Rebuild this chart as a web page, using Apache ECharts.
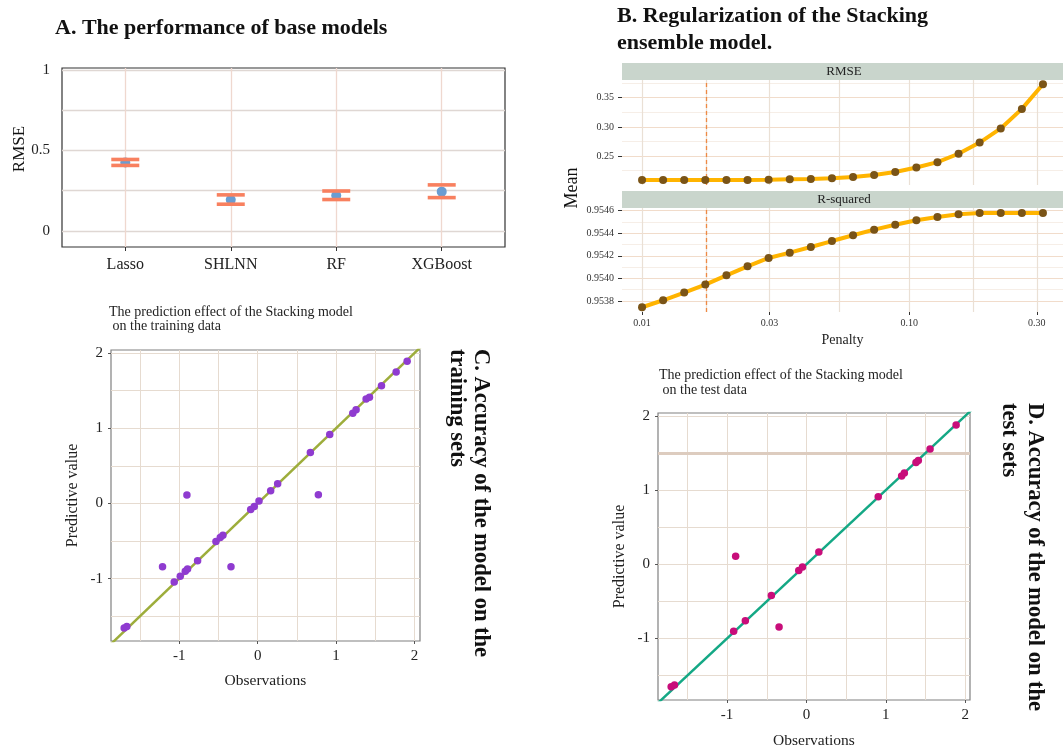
<!DOCTYPE html>
<html><head><meta charset="utf-8">
<script src="https://cdn.jsdelivr.net/npm/echarts@6/dist/echarts.min.js"></script>
<style>html,body{margin:0;padding:0;background:#fff}#c{width:1063px;height:750px}</style>
</head><body><div id="c"></div>
<script>
// ---------- Panel A: base models ----------
const modelNames = ['Lasso', 'SHLNN', 'RF', 'XGBoost'];
const modelRmseMean = [0.425, 0.193, 0.220, 0.244];
const modelRmseUpper = [0.444, 0.224, 0.248, 0.286];
const modelRmseLower = [0.407, 0.166, 0.195, 0.207];
const aYLabels = [0, 0.5, 1];
const aYGrid = [0, 0.25, 0.5, 0.75, 1];

// ---------- Panel B: regularization ----------
const penalty = [0.01, 0.01199, 0.01438, 0.01725, 0.02069, 0.02482, 0.02976, 0.0357, 0.04281, 0.05135,
  0.06158, 0.07386, 0.08859, 0.10625, 0.12743, 0.15283, 0.1833, 0.21984, 0.26367, 0.31623];
const rmseByPenalty = [0.2090, 0.2090, 0.2090, 0.2090, 0.2090, 0.2091, 0.2095, 0.2101, 0.2107, 0.2118,
  0.2142, 0.2176, 0.2228, 0.2303, 0.2396, 0.2540, 0.2731, 0.2974, 0.3309, 0.3731];
const rsqByPenalty = [0.953744, 0.953806, 0.953874, 0.953945, 0.954027, 0.954107, 0.954181, 0.954228, 0.954278, 0.954331,
  0.954382, 0.954432, 0.954476, 0.954515, 0.954544, 0.954568, 0.954579, 0.954579, 0.954579, 0.954579];
const bestPenalty = 0.01725;
const penaltyTickLabels = ['0.01', '0.03', '0.10', '0.30'];
const penaltyMinorGrid = [0.01732, 0.05477, 0.1732];
const rmseTicks = [0.25, 0.30, 0.35];
const rmseMinor = [0.225, 0.275, 0.325, 0.375];
const rsqTicks = [0.9538, 0.9540, 0.9542, 0.9544, 0.9546];
const rsqMinor = [0.9539, 0.9541, 0.9543, 0.9545];

// ---------- Panel C: training data ----------
const trainObs = [-1.702, -1.668, -1.213, -1.064, -0.987, -0.923, -0.894, -0.902, -0.766, -0.532, -0.477, -0.443, -0.340,
  -0.089, -0.043, 0.017, 0.166, 0.255, 0.672, 0.774, 0.919, 1.213, 1.255, 1.383, 1.426, 1.579, 1.766, 1.906];
const trainPred = [-1.658, -1.636, -0.844, -1.044, -0.969, -0.902, -0.871, 0.111, -0.764, -0.507, -0.453, -0.422, -0.844,
  -0.080, -0.040, 0.031, 0.169, 0.262, 0.676, 0.116, 0.916, 1.200, 1.244, 1.387, 1.413, 1.564, 1.747, 1.889];

// ---------- Panel D: test data ----------
const testObs = [-1.704, -1.662, -0.917, -0.892, -0.770, -0.442, -0.345, -0.097, -0.050, 0.156, 0.904, 1.199, 1.233, 1.380, 1.409, 1.557, 1.885];
const testPred = [-1.650, -1.628, -0.902, 0.110, -0.761, -0.422, -0.845, -0.084, -0.035, 0.167, 0.911, 1.192, 1.232, 1.373, 1.399, 1.553, 1.879];

const scatterMajor = [-1, 0, 1, 2];
const scatterMinor = [-1.5, -0.5, 0.5, 1.5];
const identityRange = [-3, 3];

// ---------- helpers ----------
const SERIF = 'Liberation Serif';
const lg = v => Math.log10(v);
const penaltyTicks = penaltyTickLabels.map(t => lg(parseFloat(t)));
const noLine = {show: false, onZero: false};

function minorAxis(gridIndex, pos, min, max, values, color, width) {
  return {
    gridIndex, type: 'value', position: pos, min, max,
    axisTick: {show: false, customValues: values},
    axisLine: noLine, axisLabel: {show: false},
    splitLine: {show: true, lineStyle: {color, width}}
  };
}

const bX = [lg(0.008414), lg(0.3758)];
const bRmse = [0.2004, 0.3804];
const bRsq = [0.953702, 0.954624];
const cX = [-1.87, 2.07], cY = [-1.83, 2.04];
const dX = [-1.87, 2.06], dY = [-1.83, 2.04];

const gridB = '#EAE0D5', gridBH = '#F1DCCB', gridBMinor = '#F4EAE1';
const gridCD = '#E6DBD0';

const option = {
  animation: false,
  backgroundColor: '#ffffff',
  textStyle: {fontFamily: SERIF},
  title: [
    {text: 'A. The performance of base models', left: 55, top: 17, padding: 0,
      textStyle: {fontFamily: SERIF, fontWeight: 'bold', fontSize: 22, color: '#111'}},
    {text: 'B. Regularization of the Stacking\nensemble model.', left: 617, top: 3, padding: 0,
      textStyle: {fontFamily: SERIF, fontWeight: 'bold', fontSize: 22, color: '#111', lineHeight: 27}},
    {text: 'The prediction effect of the Stacking model\n on the training data', left: 109, top: 305, padding: 0,
      textStyle: {fontFamily: SERIF, fontWeight: 'normal', fontSize: 14, color: '#222', lineHeight: 14}},
    {text: 'The prediction effect of the Stacking model\n on the test data', left: 659, top: 368, padding: 0,
      textStyle: {fontFamily: SERIF, fontWeight: 'normal', fontSize: 14, color: '#222', lineHeight: 15}}
  ],
  grid: [
    {left: 62, top: 68, width: 443, height: 179, show: true, borderColor: '#333', borderWidth: 1.2, backgroundColor: '#fff'},
    {left: 622, top: 80, width: 445, height: 105},
    {left: 622, top: 208, width: 445, height: 104},
    {left: 111, top: 350, width: 309, height: 291, show: true, borderColor: '#808080', borderWidth: 1.2, backgroundColor: '#fff'},
    {left: 658, top: 413, width: 312, height: 294, show: true, borderColor: '#808080', borderWidth: 1.2, backgroundColor: '#fff'}
  ],
  xAxis: [
    // 0 A
    {gridIndex: 0, type: 'value', min: 0.4, max: 4.6,
      axisLine: noLine,
      axisTick: {show: true, length: 4, customValues: [1, 2, 3, 4], lineStyle: {color: '#333'}},
      axisLabel: {customValues: [1, 2, 3, 4], margin: 10, fontSize: 16, color: '#222', fontFamily: SERIF,
        formatter: v => modelNames[Math.round(v) - 1]},
      splitLine: {show: true, lineStyle: {color: '#EFD8CF', width: 1.3}}},
    // 1 B1 majors
    {gridIndex: 1, type: 'value', min: bX[0], max: bX[1],
      axisLine: noLine, axisLabel: {show: false},
      axisTick: {show: false, customValues: penaltyTicks},
      splitLine: {show: true, lineStyle: {color: gridB, width: 1.2}}},
    // 2 B1 minors
    minorAxis(1, 'top', bX[0], bX[1], penaltyMinorGrid.map(lg), gridB, 1.2),
    // 3 B2 majors + labels
    {gridIndex: 2, type: 'value', min: bX[0], max: bX[1],
      axisLine: noLine,
      axisTick: {show: true, length: 3, customValues: penaltyTicks, lineStyle: {color: '#333'}},
      axisLabel: {customValues: penaltyTicks, margin: 6, fontSize: 10, color: '#333', fontFamily: SERIF,
        formatter: v => penaltyTickLabels[penaltyTicks.findIndex(t => Math.abs(t - v) < 1e-6)]},
      splitLine: {show: true, lineStyle: {color: gridB, width: 1.2}},
      name: 'Penalty', nameLocation: 'middle', nameGap: 21,
      nameTextStyle: {fontSize: 14, color: '#222', fontFamily: SERIF}},
    // 4 B2 minors
    minorAxis(2, 'top', bX[0], bX[1], penaltyMinorGrid.map(lg), gridB, 1.2),
    // 5 C
    {gridIndex: 3, type: 'value', min: cX[0], max: cX[1],
      axisLine: noLine,
      axisTick: {show: true, length: 3, customValues: scatterMajor, lineStyle: {color: '#555'}},
      axisLabel: {customValues: scatterMajor, margin: 8, fontSize: 15, color: '#222', fontFamily: SERIF},
      splitLine: {show: true, lineStyle: {color: gridCD, width: 1}},
      name: 'Observations', nameLocation: 'middle', nameGap: 32,
      nameTextStyle: {fontSize: 15.5, color: '#222', fontFamily: SERIF}},
    minorAxis(3, 'top', cX[0], cX[1], scatterMinor, gridCD, 1),
    // 7 D
    {gridIndex: 4, type: 'value', min: dX[0], max: dX[1],
      axisLine: noLine,
      axisTick: {show: true, length: 3, customValues: scatterMajor, lineStyle: {color: '#555'}},
      axisLabel: {customValues: scatterMajor, margin: 8, fontSize: 15, color: '#222', fontFamily: SERIF},
      splitLine: {show: true, lineStyle: {color: gridCD, width: 1}},
      name: 'Observations', nameLocation: 'middle', nameGap: 33,
      nameTextStyle: {fontSize: 15.5, color: '#222', fontFamily: SERIF}},
    minorAxis(4, 'top', dX[0], dX[1], scatterMinor, gridCD, 1)
  ],
  yAxis: [
    // 0 A
    {gridIndex: 0, type: 'value', min: -0.1, max: 1.0125,
      axisLine: noLine,
      axisTick: {show: false, customValues: aYGrid},
      axisLabel: {customValues: aYLabels, margin: 12, fontSize: 15, color: '#222', fontFamily: SERIF},
      splitLine: {show: true, lineStyle: {color: '#DFD7D3', width: 1.3}}},
    // 1 B1 majors
    {gridIndex: 1, type: 'value', min: bRmse[0], max: bRmse[1],
      axisLine: noLine,
      axisTick: {show: true, length: 4, customValues: rmseTicks, lineStyle: {color: '#333'}},
      axisLabel: {customValues: rmseTicks, margin: 8, fontSize: 10, color: '#333', fontFamily: SERIF,
        formatter: v => v.toFixed(2)},
      splitLine: {show: true, lineStyle: {color: gridBH, width: 1.1}}},
    minorAxis(1, 'right', bRmse[0], bRmse[1], rmseMinor, gridBMinor, 0.8),
    // 3 B2 majors
    {gridIndex: 2, type: 'value', min: bRsq[0], max: bRsq[1],
      axisLine: noLine,
      axisTick: {show: true, length: 4, customValues: rsqTicks, lineStyle: {color: '#333'}},
      axisLabel: {customValues: rsqTicks, margin: 8, fontSize: 10, color: '#333', fontFamily: SERIF,
        formatter: v => v.toFixed(4)},
      splitLine: {show: true, lineStyle: {color: gridBH, width: 1.1}}},
    minorAxis(2, 'right', bRsq[0], bRsq[1], rsqMinor, gridBMinor, 0.8),
    // 5 C
    {gridIndex: 3, type: 'value', min: cY[0], max: cY[1],
      axisLine: noLine,
      axisTick: {show: true, length: 3, customValues: scatterMajor, lineStyle: {color: '#555'}},
      axisLabel: {customValues: scatterMajor, margin: 8, fontSize: 15, color: '#222', fontFamily: SERIF},
      splitLine: {show: true, lineStyle: {color: gridCD, width: 1}},
      name: 'Predictive value', nameLocation: 'middle', nameGap: 30,
      nameTextStyle: {fontSize: 16, color: '#222', fontFamily: SERIF}},
    minorAxis(3, 'right', cY[0], cY[1], scatterMinor, gridCD, 1),
    // 7 D
    {gridIndex: 4, type: 'value', min: dY[0], max: dY[1],
      axisLine: noLine,
      axisTick: {show: true, length: 3, customValues: scatterMajor, lineStyle: {color: '#555'}},
      axisLabel: {customValues: scatterMajor, margin: 8, fontSize: 15, color: '#222', fontFamily: SERIF},
      splitLine: {show: true, lineStyle: {color: gridCD, width: 1}},
      name: 'Predictive value', nameLocation: 'middle', nameGap: 30,
      nameTextStyle: {fontSize: 16, color: '#222', fontFamily: SERIF}},
    minorAxis(4, 'right', dY[0], dY[1], scatterMinor, gridCD, 1)
  ],
  series: [
    // A
    {type: 'scatter', xAxisIndex: 0, yAxisIndex: 0, symbol: 'circle', symbolSize: 10, z: 2,
      itemStyle: {color: '#6A9DD2', opacity: 1}, data: modelRmseMean.map((v, i) => [i + 1, v])},
    {type: 'scatter', xAxisIndex: 0, yAxisIndex: 0, symbol: 'rect', symbolSize: [28, 3.6], z: 3,
      itemStyle: {color: '#F8805F', opacity: 1}, data: modelRmseUpper.map((v, i) => [i + 1, v])},
    {type: 'scatter', xAxisIndex: 0, yAxisIndex: 0, symbol: 'rect', symbolSize: [28, 3.6], z: 3,
      itemStyle: {color: '#F8805F', opacity: 1}, data: modelRmseLower.map((v, i) => [i + 1, v])},
    // B1
    {type: 'line', xAxisIndex: 1, yAxisIndex: 1, showSymbol: true, symbol: 'circle', symbolSize: 8,
      lineStyle: {color: '#FFB400', width: 4}, itemStyle: {color: '#7A5417'},
      data: penalty.map((p, i) => [lg(p), rmseByPenalty[i]]),
      markLine: {silent: true, symbol: 'none', label: {show: false}, z: 1,
        lineStyle: {type: [4, 3], color: '#EE8A45', width: 1.3}, data: [{xAxis: lg(bestPenalty)}]}},
    // B2
    {type: 'line', xAxisIndex: 3, yAxisIndex: 3, showSymbol: true, symbol: 'circle', symbolSize: 8,
      lineStyle: {color: '#FFB400', width: 4}, itemStyle: {color: '#7A5417'},
      data: penalty.map((p, i) => [lg(p), rsqByPenalty[i]]),
      markLine: {silent: true, symbol: 'none', label: {show: false}, z: 1,
        lineStyle: {type: [4, 3], color: '#EE8A45', width: 1.3}, data: [{xAxis: lg(bestPenalty)}]}},
    // C
    {type: 'line', xAxisIndex: 5, yAxisIndex: 5, showSymbol: false, clip: true,
      lineStyle: {color: '#9DAD3B', width: 2.5},
      data: identityRange.map(v => [v, v])},
    {type: 'scatter', xAxisIndex: 5, yAxisIndex: 5, symbolSize: 7.5, z: 3,
      itemStyle: {color: '#8F3BD0', opacity: 1}, data: trainObs.map((x, i) => [x, trainPred[i]])},
    // D
    {type: 'line', xAxisIndex: 7, yAxisIndex: 7, showSymbol: false, clip: true,
      lineStyle: {color: '#14A885', width: 2.5},
      data: identityRange.map(v => [v, v]),
      markLine: {silent: true, symbol: 'none', label: {show: false}, z: 0,
        lineStyle: {type: 'solid', color: '#DDCCBF', width: 3}, data: [{yAxis: 1.5}]}},
    {type: 'scatter', xAxisIndex: 7, yAxisIndex: 7, symbolSize: 7.5, z: 3,
      itemStyle: {color: '#C80D7A', opacity: 1}, data: testObs.map((x, i) => [x, testPred[i]])}
  ],
  graphic: [
    {type: 'rect', shape: {x: 622, y: 63, width: 445, height: 17}, style: {fill: '#C9D5CC'}, silent: true},
    {type: 'text', x: 844, y: 71.5, silent: true,
      style: {text: 'RMSE', font: '13px "Liberation Serif"', fill: '#222', textAlign: 'center', textVerticalAlign: 'middle'}},
    {type: 'rect', shape: {x: 622, y: 191, width: 445, height: 17}, style: {fill: '#C9D5CC'}, silent: true},
    {type: 'text', x: 844, y: 199.5, silent: true,
      style: {text: 'R-squared', font: '13px "Liberation Serif"', fill: '#222', textAlign: 'center', textVerticalAlign: 'middle'}},
    {type: 'text', x: 20, y: 149, rotation: Math.PI / 2, silent: true,
      style: {text: 'RMSE', font: '17px "Liberation Serif"', fill: '#111', textAlign: 'center', textVerticalAlign: 'middle'}},
    {type: 'text', x: 572, y: 188, rotation: Math.PI / 2, silent: true,
      style: {text: 'Mean', font: '18px "Liberation Serif"', fill: '#111', textAlign: 'center', textVerticalAlign: 'middle'}},
    {type: 'text', x: 481, y: 349, rotation: -Math.PI / 2, silent: true,
      style: {text: 'C. Accuracy of the model on the', font: 'bold 22.5px "Liberation Serif"', fill: '#111', textAlign: 'left', textVerticalAlign: 'middle'}},
    {type: 'text', x: 457, y: 349, rotation: -Math.PI / 2, silent: true,
      style: {text: 'training sets', font: 'bold 22.5px "Liberation Serif"', fill: '#111', textAlign: 'left', textVerticalAlign: 'middle'}},
    {type: 'text', x: 1035, y: 403, rotation: -Math.PI / 2, silent: true,
      style: {text: 'D. Accuracy of the model on the', font: 'bold 22.5px "Liberation Serif"', fill: '#111', textAlign: 'left', textVerticalAlign: 'middle'}},
    {type: 'text', x: 1009, y: 403, rotation: -Math.PI / 2, silent: true,
      style: {text: 'test sets', font: 'bold 22.5px "Liberation Serif"', fill: '#111', textAlign: 'left', textVerticalAlign: 'middle'}}
  ]
};

const chart = echarts.init(document.getElementById('c'), null, {renderer: 'canvas'});
chart.setOption(option);
</script>
</body></html>
